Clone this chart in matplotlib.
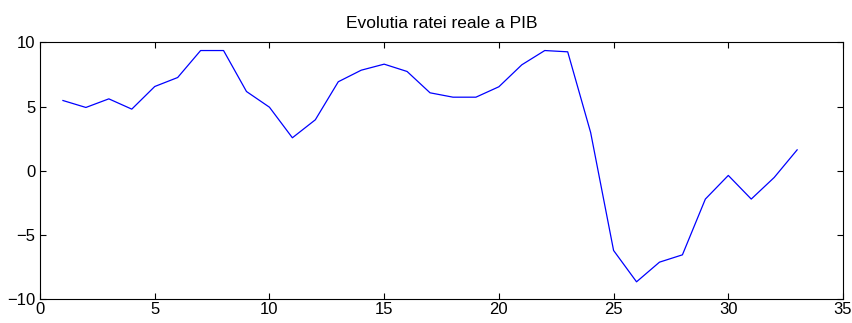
import matplotlib.pyplot as plt

plt.rcParams['font.family'] = ['Liberation Sans', 'DejaVu Sans']

# date: rata reala a PIB
ani = list(range(1, 34))
pib = [5.47, 4.93, 5.6, 4.8, 6.56, 7.26, 9.36, 9.36, 6.17, 4.95,
       2.57, 3.97, 6.93, 7.83, 8.3, 7.73, 6.07, 5.73, 5.73, 6.54,
       8.25, 9.36, 9.26, 2.98, -6.2, -8.64, -7.11, -6.54, -2.2, -0.36,
       -2.2, -0.52, 1.63]

fig = plt.figure(figsize=(8.53, 3.23), dpi=100)
ax = fig.add_axes([0.0469, 0.0734, 0.9414, 0.7956])

ax.plot(ani, pib, color='#0000ff', linewidth=0.9)

ax.set_xlim(0, 35)
ax.set_ylim(-10, 10)
ax.set_xticks(range(0, 36, 5))
ax.set_yticks(range(-10, 11, 5))
ax.tick_params(direction='in', length=4, width=0.8, labelsize=12,
               top=True, right=True)
ax.tick_params(axis='x', pad=2)
for s in ax.spines.values():
    s.set_linewidth(0.8)

ax.set_title('Evolutia ratei reale a PIB', fontsize=12.5, pad=10)

fig.savefig('out.png', dpi=100)
